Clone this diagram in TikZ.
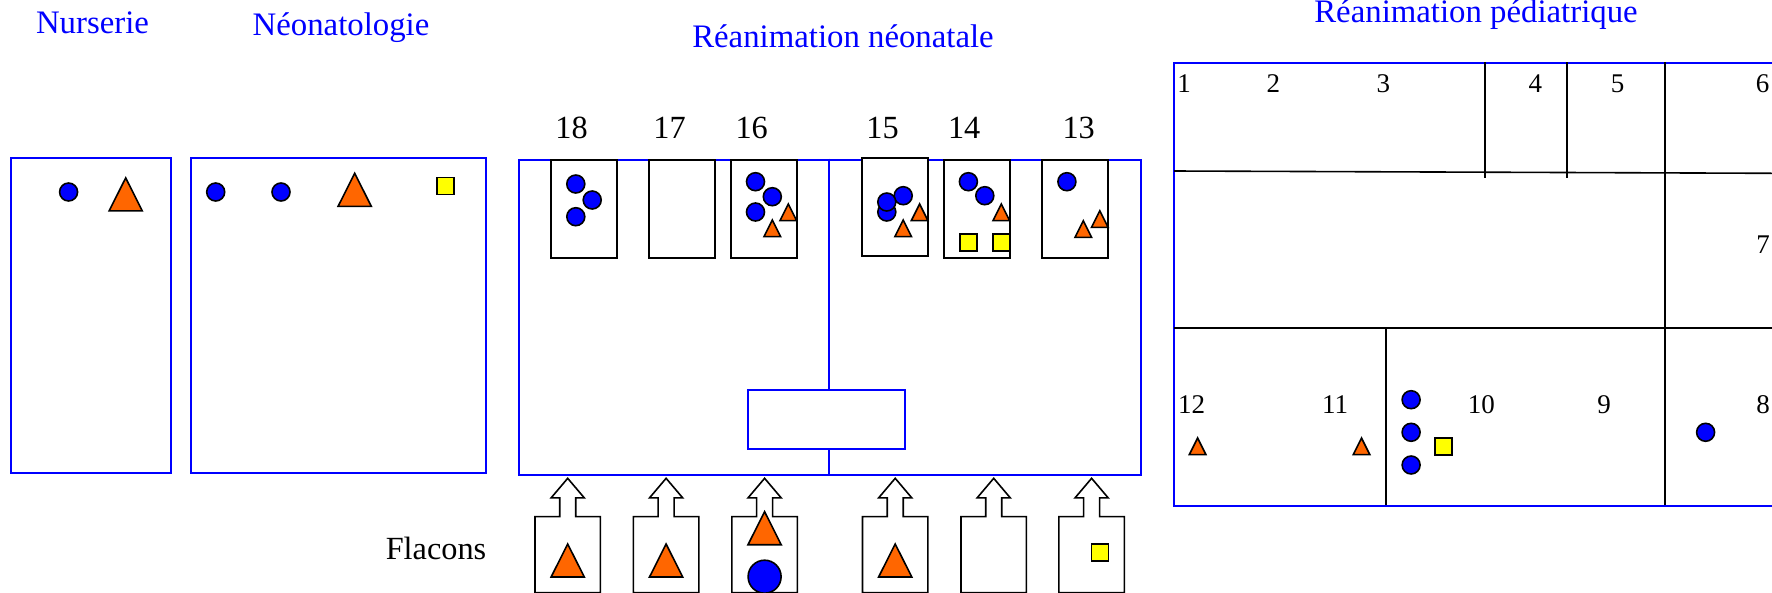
\documentclass[tikz,border=0pt]{standalone}
\usepackage{fontspec}
\setmainfont{Liberation Serif}
\usepackage{xcolor}
\definecolor{bl}{rgb}{0,0,1}
\definecolor{or}{rgb}{1,0.4,0}
\definecolor{ja}{rgb}{1,1,0}
\usepackage{tikz}
\usetikzlibrary{positioning, calc}
\tikzstyle{service} = [draw=bl, line width=2pt, rectangle, inner sep=0pt, anchor=north west]
\tikzstyle{lit} = [draw, line width=1.6pt, rectangle, inner sep=0pt, anchor=north west, minimum width=66pt, minimum height=98pt]
\tikzstyle{titre} = [text=bl, font=\fontsize{32.8}{33}\selectfont, anchor=base, inner sep=0pt]
\tikzstyle{num} = [font=\fontsize{32.3}{33}\selectfont, anchor=base, inner sep=0pt]
\tikzstyle{numpetit} = [font=\fontsize{27}{27}\selectfont, anchor=base, inner sep=0pt]
\tikzstyle{rond} = [draw, circle, fill=bl, line width=1.6pt, inner sep=0pt, minimum size=18pt]
\tikzstyle{rondgrand} = [draw, circle, fill=bl, line width=1.6pt, inner sep=0pt, minimum size=33pt]
\tikzstyle{carre} = [draw, rectangle, fill=ja, line width=1.6pt, inner sep=0pt, minimum size=17pt]
\tikzstyle{tri} = [draw, fill=or, line width=1.6pt, line join=miter]
\tikzstyle{cloison} = [draw, line width=1.6pt]

\begin{document}
\begin{tikzpicture}[x=1pt, y=-1pt]
    \useasboundingbox (0,0) rectangle (1772,592);
    \clip (0,0) rectangle (1772,592);

    % titles
    \node[titre] (nurserie) at (92.5,33) {Nurserie};
    \node[titre] (neonat) at (341,35.7) {Néonatologie};
    \node[titre] (reaneo) at (843,47.5) {Réanimation néonatale};
    \node[titre] (reaped) at (1476,22.2) {Réanimation pédiatrique};
    \node[num] (flacons) at (436,559) {Flacons};

    % wards
    \node[service, minimum width=160pt, minimum height=315pt] (nur) at (10,156.7) {};
    \node[service, minimum width=295pt, minimum height=315pt] (neo) at (190,156.7) {};
    \node[service, minimum width=622pt, minimum height=315pt] (rea) at (518,158.7) {};
    \draw[draw=bl, line width=2pt] (829.3,158.7) coordinate (murh) -- (829.3,473.7) coordinate (murb);
    \node[service, fill=white, line width=2.8pt, minimum width=157pt, minimum height=59pt] (poste) at (746.5,388.5) {};
    \node[service, minimum width=640pt, minimum height=442.5pt] (ped) at (1172.6,62.2) {};

    % beds of the neonatal unit
    \foreach \x/\y/\n/\nx in {550.4/159.3/18/571.6, 648.4/159.3/17/669.6, 730/159.3/16/751.7,
                              861.4/157/15/882.6, 943/159.3/14/964.2, 1041.4/159.3/13/1078.7}
    {
        \node[lit, fill=white] (lit\n) at (\x,\y) {};
        \node[num] (num\n) at (\nx,138.5) {\n};
    }

    % bottles
    \foreach \x [count=\i] in {567.7, 666.1, 764.6, 895.2, 993.7, 1091.6}
    {
        \draw[line width=1.6pt] ($(\x,478.3)$) coordinate (fl\i)
            -- ++(16.6,19.6) -- ++(-8.6,0) -- ++(0,18.7) -- ++(24.7,0) -- ++(0,76)
            -- ++(-65.4,0) -- ++(0,-76) -- ++(24.7,0) -- ++(0,-18.7) -- ++(-8.6,0) -- cycle;
    }

    % walls of the paediatric unit
    \draw[cloison] (1174,171) coordinate (a1) -- (1772,173.3) coordinate (a2);
    \draw[cloison] (1174,328) coordinate (b1) -- (1772,328) coordinate (b2);
    \draw[cloison] (1485,62.2) coordinate (c1) -- (1485,178) coordinate (c2);
    \draw[cloison] (1566.7,62.2) coordinate (d1) -- (1566.7,178) coordinate (d2);
    \draw[cloison] (1664.7,62.2) coordinate (e1) -- (1664.7,504.7) coordinate (e2);
    \draw[cloison] (1386,328) coordinate (f1) -- (1386,504.7) coordinate (f2);

    % room numbers
    \foreach \x/\y/\n in {1184/92.2/1, 1273.4/92.2/2, 1383.3/92.2/3, 1535.3/92.2/4, 1617.5/92.2/5,
                          1762.7/92.2/6, 1763/253.8/7, 1763/413.8/8, 1604/413.8/9,
                          1481.3/413.8/10, 1335/413.8/11, 1191.7/413.8/12}
        \node[numpetit] (ch\n) at (\x,\y) {\n};

    % small circles
    \foreach \x/\y [count=\i] in {68.6/192, 215.7/192, 281/192,
        575.8/184, 592.2/200, 575.8/216.7,
        755.5/181.7, 772.3/196.7, 755.5/212,
        903.2/195.7, 886.8/212, 886.8/202,
        968.4/181.7, 984.8/195.7, 1066.9/181.7,
        1411.1/399.7, 1411.1/432.3, 1411.1/465, 1705.6/432.3}
        \node[rond] (r\i) at (\x,\y) {};
    \node[rondgrand] (r20) at (764.6,576.7) {};

    % large triangles
    \foreach \x/\y in {125.7/177.9, 354.7/173.3, 567.7/544, 666.1/544, 764.6/511.7, 895.2/544}
        \draw[tri] (\x,\y) -- ++(16.6,33) -- ++(-33.2,0) -- cycle;

    % small triangles
    \foreach \x/\y in {788.3/204, 772.3/220, 919.6/204, 903.2/220, 1001.3/204,
                       1099.8/210.7, 1083.3/220.7, 1197.6/438, 1361.5/438}
        \draw[tri] (\x,\y) -- ++(8.3,16.6) -- ++(-16.6,0) -- cycle;

    % squares
    \foreach \x/\y [count=\i] in {445.3/185.8, 968.6/242.5, 1001.5/242.5, 1443.7/446.3, 1099.8/552.6}
        \node[carre] (c\i) at (\x,\y) {};
\end{tikzpicture}
\end{document}
